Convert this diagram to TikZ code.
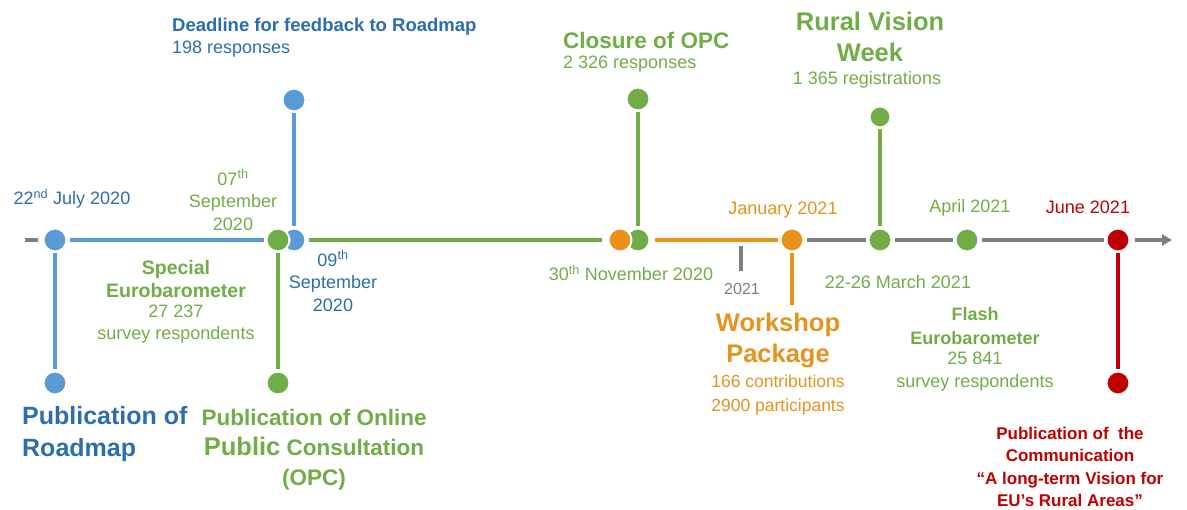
\documentclass[tikz,border=0pt]{standalone}
\usepackage{fontspec}
\setmainfont{Liberation Sans}
\usetikzlibrary{arrows.meta}
\definecolor{cblue}{HTML}{5B9BD5}
\definecolor{tblue}{HTML}{2A6EB0}
\definecolor{cgreen}{HTML}{70AD47}
\definecolor{corange}{HTML}{E8921E}
\definecolor{cred}{HTML}{C00000}
\definecolor{cgray}{HTML}{7F7F7F}
\tikzset{
  dot/.style={circle, minimum size=23pt, inner sep=0pt, draw=white, line width=2pt, fill=#1},
  axisline/.style={line width=4pt, draw=#1, shorten <=2pt, shorten >=2pt},
  stem/.style={line width=4pt, draw=#1, shorten <=1pt, shorten >=1pt},
  txt/.style={inner sep=0pt, align=center, text=#1},
  sreg/.style={font=\fontsize{18}{22.5}\selectfont},
  mbold/.style={font=\fontsize{19.5}{23}\selectfont\bfseries},
  lbold/.style={font=\fontsize{25.5}{31}\selectfont\bfseries},
}
\begin{document}
\begin{tikzpicture}[x=1pt,y=-1pt]
\useasboundingbox (0,0) rectangle (1187,510);
% circles on the axis
\node[dot=cblue] (p1) at (55,240) {};
\node[dot=cblue] (b2) at (294,240) {};
\node[dot=cgreen] (g1) at (278,240) {};
\node[dot=cgreen] (g2) at (638,240) {};
\node[dot=corange] (o1) at (620,240) {};
\node[dot=corange] (o2) at (792,240) {};
\node[dot=cgreen] (g3) at (880,240) {};
\node[dot=cgreen] (g4) at (967,240) {};
\node[dot=cred] (r1) at (1118,240) {};
% end circles
\node[dot=cblue] (pb) at (55,383) {};
\node[dot=cgreen] (gb) at (278,383) {};
\node[dot=cblue] (bt) at (294,100) {};
\node[dot=cgreen] (gt) at (638,99) {};
\node[dot=cgreen, minimum size=21pt] (gt2) at (880,117) {};
\node[dot=cred] (rb) at (1118,383) {};
\coordinate (start) at (25,240);
\coordinate (stop) at (1172,240);
\coordinate (ow) at (792,305);
\coordinate (tk1) at (741,246);
\coordinate (tk2) at (741,271);
% axis
\draw[axisline=cgray, shorten <=0pt, shorten >=5pt] (start) -- (p1);
\draw[axisline=cblue] (p1) -- (g1);
\draw[axisline=cgreen, shorten >=6pt] (b2) -- (o1);
\draw[axisline=corange, shorten <=4pt] (g2) -- (o2);
\draw[axisline=cgray] (o2) -- (g3);
\draw[axisline=cgray] (g3) -- (g4);
\draw[axisline=cgray] (g4) -- (r1);
\draw[line width=4pt, cgray, shorten <=4pt, -{Triangle[length=10pt,width=11pt]}] (r1) -- (stop);
\draw[line width=4pt, cgray] (tk1) -- (tk2);
% stems
\draw[stem=cblue] (p1) -- (pb);
\draw[stem=cgreen] (g1) -- (gb);
\draw[stem=cblue] (b2) -- (bt);
\draw[stem=cgreen] (g2) -- (gt);
\draw[stem=corange, shorten >=0pt] (o2) -- (ow);
\draw[stem=cgreen] (g3) -- (gt2);
\draw[stem=cred] (r1) -- (rb);
% texts
\node[txt=tblue, sreg] (t1) at (72,199) {22\textsuperscript{nd} July 2020};
\node[txt=cgreen, sreg] (t2) at (233,200) {07\textsuperscript{th}\\September\\2020};
\node[txt=cgreen, mbold] (t3a) at (176,279.5) {Special\\Eurobarometer};
\node[txt=cgreen, sreg] (t3b) at (176,324) {27 237\\survey respondents};
\node[txt=tblue, sreg] (t4) at (333,281) {09\textsuperscript{th}\\September\\2020};
\node[txt=tblue, font=\fontsize{18.5}{22}\selectfont\bfseries, anchor=west] (t5a) at (172,27) {Deadline for feedback to Roadmap};
\node[txt=tblue, sreg, anchor=west] (t5b) at (172,49) {198 responses};
\node[txt=cgreen, font=\fontsize{22.5}{26}\selectfont\bfseries, anchor=west] (t6a) at (563,40) {Closure of OPC};
\node[txt=cgreen, sreg, anchor=west] (t6b) at (563,64) {2 326 responses};
\node[txt=cgreen, lbold] (t7a) at (870,36.5) {Rural Vision\\Week};
\node[txt=cgreen, sreg] (t7b) at (867,80) {1 365 registrations};
\node[txt=corange, sreg] (t8) at (783,210) {January 2021};
\node[txt=cgreen, sreg] (t9) at (631,273) {30\textsuperscript{th} November 2020};
\node[txt=cgray, font=\fontsize{16}{19}\selectfont] (t10) at (742,289) {2021};
\node[txt=corange, lbold] (t11a) at (778,340.5) {Workshop\\Package};
\node[txt=corange, font=\fontsize{17.5}{24}\selectfont] (t11b) at (778,395) {166 contributions\\2900 participants};
\node[txt=cgreen, sreg] (t12) at (898,282) {22-26 March 2021};
\node[txt=cgreen, sreg] (t13) at (970,208) {April 2021};
\node[txt=cgreen, font=\fontsize{18}{24}\selectfont\bfseries] (t14a) at (975,326) {Flash\\Eurobarometer};
\node[txt=cgreen, sreg] (t14b) at (975,371.5) {25 841\\survey respondents};
\node[txt=cred, sreg] (t15) at (1088,207) {June 2021};
\node[txt=tblue, font=\fontsize{25}{32}\selectfont\bfseries, align=left, anchor=west] (t16) at (22,434) {Publication of\\Roadmap};
\node[txt=cgreen, font=\fontsize{22.5}{30}\selectfont\bfseries] (t17) at (314,450) {Publication of Online\\{\fontsize{25.5}{30}\selectfont Public} Consultation\\(OPC)};
\node[txt=cred, font=\fontsize{17}{22.5}\selectfont\bfseries] (t18) at (1070,467) {Publication of\ \ the\\Communication\\``A long-term Vision for\\EU’s Rural Areas''};
\end{tikzpicture}
\end{document}
